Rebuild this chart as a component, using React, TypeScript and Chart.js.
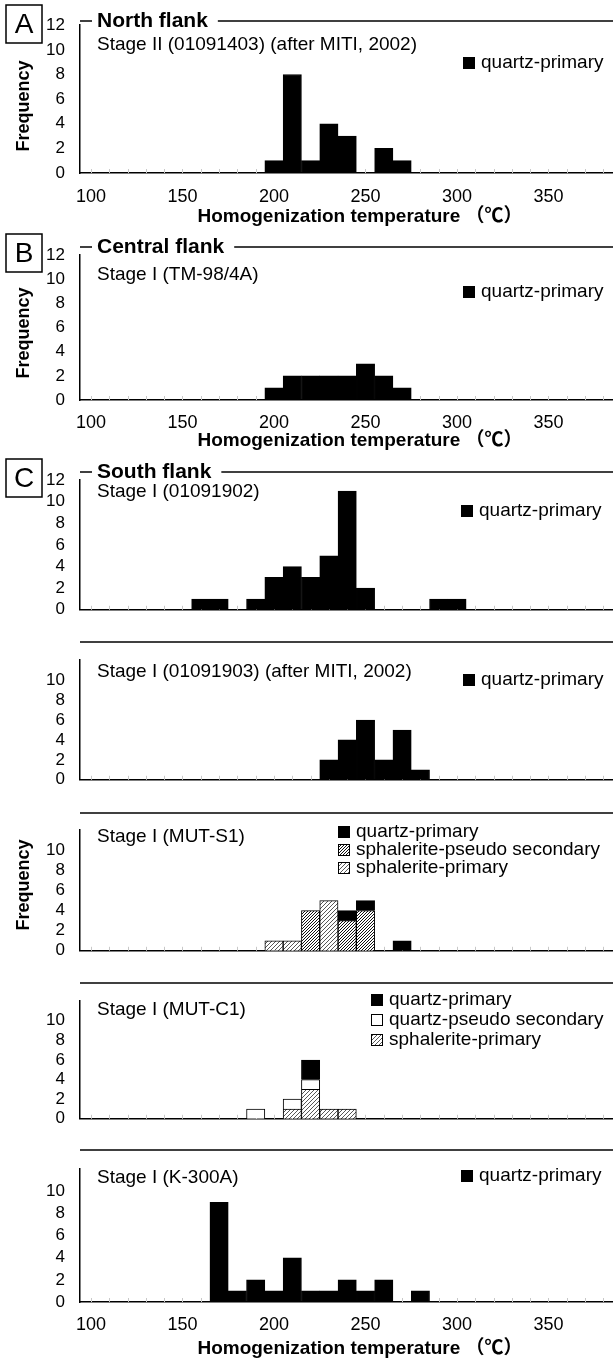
import React, { useEffect, useRef } from "react";
import { Chart, registerables } from "chart.js";

Chart.register(...registerables);

const FONT = "'Liberation Sans', Arial, 'Noto Sans CJK JP', sans-serif";

// ---------------- data ----------------
const tempBins = [160, 170, 180, 190, 200, 210, 220, 230, 240, 250, 260, 270, 280, 290, 300];
const xTickLabels = [100, 150, 200, 250, 300, 350];
const yTicks = [0, 2, 4, 6, 8, 10, 12];

const northQuartzPrimary = [0, 0, 0, 0, 1, 8, 1, 4, 3, 0, 2, 1, 0, 0, 0];
const centralQuartzPrimary = [0, 0, 0, 0, 1, 2, 2, 2, 2, 3, 2, 1, 0, 0, 0];
const s01091902QuartzPrimary = [1, 1, 0, 1, 3, 4, 3, 5, 11, 2, 0, 0, 0, 1, 1];
const s01091903QuartzPrimary = [0, 0, 0, 0, 0, 0, 0, 2, 4, 6, 2, 5, 1, 0, 0];
const mutS1SphaleritePrimary = [0, 0, 0, 0, 1, 1, 0, 5, 0, 0, 0, 0, 0, 0, 0];
const mutS1SphaleritePseudo = [0, 0, 0, 0, 0, 0, 4, 0, 3, 4, 0, 0, 0, 0, 0];
const mutS1QuartzPrimary = [0, 0, 0, 0, 0, 0, 0, 0, 1, 1, 0, 1, 0, 0, 0];
const mutC1SphaleritePrimary = [0, 0, 0, 0, 0, 1, 3, 1, 1, 0, 0, 0, 0, 0, 0];
const mutC1QuartzPseudo = [0, 0, 0, 1, 0, 1, 1, 0, 0, 0, 0, 0, 0, 0, 0];
const mutC1QuartzPrimary = [0, 0, 0, 0, 0, 0, 2, 0, 0, 0, 0, 0, 0, 0, 0];
const k300aQuartzPrimary = [0, 9, 1, 2, 1, 4, 1, 1, 2, 1, 2, 0, 1, 0, 0];

const X_MIN = 94;
const X_MAX = 400;
const X_TITLE = "Homogenization temperature \uFF08\u2103\uFF09";

type DS = { label: string; values: number[]; fill: "black" | "white" | "hatchLight" | "hatchDense" };
type Panel = {
  canvasTop: number;
  canvasH: number;
  plotTop: number;
  plotBottom: number;
  datasets: DS[];
  heading?: string;
  subtitle: string;
  subtitleY: number;
  legendX: number;
  legendYs: number[];
  letter?: { ch: string; top: number };
  freqY?: number;
  showX: boolean;
  hide12: boolean;
  tickPad: number;
  titlePad: number;
};

const panels: Panel[] = [
  {
    canvasTop: 0, canvasH: 230, plotTop: 21, plotBottom: 173,
    datasets: [{ label: "quartz-primary", values: northQuartzPrimary, fill: "black" }],
    heading: "North flank", subtitle: "Stage II (01091403) (after MITI, 2002)", subtitleY: 45,
    legendX: 463, legendYs: [63], letter: { ch: "A", top: 5 }, freqY: 106,
    showX: true, hide12: false, tickPad: 13, titlePad: 2,
  },
  {
    canvasTop: 230, canvasH: 225, plotTop: 247, plotBottom: 400,
    datasets: [{ label: "quartz-primary", values: centralQuartzPrimary, fill: "black" }],
    heading: "Central flank", subtitle: "Stage I (TM-98/4A)", subtitleY: 275,
    legendX: 463, legendYs: [292], letter: { ch: "B", top: 234 }, freqY: 333,
    showX: true, hide12: false, tickPad: 12, titlePad: 3,
  },
  {
    canvasTop: 455, canvasH: 180, plotTop: 472, plotBottom: 627,
    datasets: [{ label: "quartz-primary", values: s01091902QuartzPrimary, fill: "black" }],
    heading: "South flank", subtitle: "Stage I (01091902)", subtitleY: 492,
    legendX: 461, legendYs: [511], letter: { ch: "C", top: 459 },
    showX: false, hide12: false, tickPad: 12, titlePad: 0,
  },
  {
    canvasTop: 635, canvasH: 170, plotTop: 642, plotBottom: 798,
    datasets: [{ label: "quartz-primary", values: s01091903QuartzPrimary, fill: "black" }],
    subtitle: "Stage I (01091903) (after MITI, 2002)", subtitleY: 672,
    legendX: 463, legendYs: [680],
    showX: false, hide12: true, tickPad: 12, titlePad: 0,
  },
  {
    canvasTop: 805, canvasH: 171, plotTop: 813, plotBottom: 969,
    datasets: [
      { label: "sphalerite-primary", values: mutS1SphaleritePrimary, fill: "hatchLight" },
      { label: "sphalerite-pseudo secondary", values: mutS1SphaleritePseudo, fill: "hatchDense" },
      { label: "quartz-primary", values: mutS1QuartzPrimary, fill: "black" },
    ],
    subtitle: "Stage I (MUT-S1)", subtitleY: 837,
    legendX: 338, legendYs: [832, 850, 868], freqY: 885,
    showX: false, hide12: true, tickPad: 12, titlePad: 0,
  },
  {
    canvasTop: 976, canvasH: 168, plotTop: 983, plotBottom: 1138,
    datasets: [
      { label: "sphalerite-primary", values: mutC1SphaleritePrimary, fill: "hatchLight" },
      { label: "quartz-pseudo secondary", values: mutC1QuartzPseudo, fill: "white" },
      { label: "quartz-primary", values: mutC1QuartzPrimary, fill: "black" },
    ],
    subtitle: "Stage I (MUT-C1)", subtitleY: 1010,
    legendX: 371, legendYs: [1000, 1020, 1040],
    showX: false, hide12: true, tickPad: 12, titlePad: 0,
  },
  {
    canvasTop: 1144, canvasH: 216, plotTop: 1150, plotBottom: 1302,
    datasets: [{ label: "quartz-primary", values: k300aQuartzPrimary, fill: "black" }],
    subtitle: "Stage I (K-300A)", subtitleY: 1178,
    legendX: 461, legendYs: [1176],
    showX: true, hide12: true, tickPad: 12, titlePad: 0,
  },
];

const CANVAS_W = 660;

function makeHatch(spacing: number, lw: number, color: string): CanvasPattern | string {
  const c = document.createElement("canvas");
  c.width = spacing;
  c.height = spacing;
  const g = c.getContext("2d");
  if (!g) return "#999";
  g.fillStyle = "#fff";
  g.fillRect(0, 0, spacing, spacing);
  g.strokeStyle = color;
  g.lineWidth = lw;
  g.beginPath();
  g.moveTo(0, spacing);
  g.lineTo(spacing, 0);
  g.moveTo(-spacing / 2, spacing / 2);
  g.lineTo(spacing / 2, -spacing / 2);
  g.moveTo(spacing / 2, spacing * 1.5);
  g.lineTo(spacing * 1.5, spacing / 2);
  g.stroke();
  return g.createPattern(c, "repeat") || "#999";
}

function makeDecor(p: Panel) {
  return {
    id: "decor",
    beforeDatasetsDraw(chart: any) {
      const { ctx, chartArea, scales } = chart;
      const xs = scales.x;
      ctx.save();
      ctx.strokeStyle = "#c8c8c8";
      ctx.lineWidth = 1;
      for (let t = 100; t < X_MAX; t += 10) {
        const px = Math.round(xs.getPixelForValue(t)) + 0.5;
        ctx.beginPath();
        ctx.moveTo(px, chartArea.bottom);
        ctx.lineTo(px, chartArea.bottom - 4);
        ctx.stroke();
      }
      ctx.restore();
    },
    afterDraw(chart: any) {
      const { ctx, chartArea } = chart;
      const L = chartArea.left;
      const top = p.plotTop - p.canvasTop;
      ctx.save();
      ctx.strokeStyle = "#000";
      ctx.fillStyle = "#000";
      ctx.lineWidth = 1.5;
      const line = (x1: number, y1: number, x2: number, y2: number) => {
        ctx.beginPath();
        ctx.moveTo(x1, y1);
        ctx.lineTo(x2, y2);
        ctx.stroke();
      };
      ctx.textBaseline = "middle";
      if (p.heading) {
        ctx.font = `bold 21px ${FONT}`;
        const w = ctx.measureText(p.heading).width;
        line(L, top, L + 12, top);
        ctx.textAlign = "left";
        ctx.fillText(p.heading, L + 17, top);
        line(L + 17 + w + 10, top, CANVAS_W, top);
      } else {
        line(L, top, CANVAS_W, top);
      }
      // subtitle
      ctx.font = `19px ${FONT}`;
      ctx.textAlign = "left";
      ctx.fillText(p.subtitle, L + 17, p.subtitleY - p.canvasTop);
      // legend (top entry = last dataset)
      const dsets = chart.data.datasets.slice().reverse();
      dsets.forEach((d: any, i: number) => {
        const y = p.legendYs[i] - p.canvasTop;
        ctx.fillStyle = d.backgroundColor;
        ctx.fillRect(p.legendX, y - 6, 12, 12);
        ctx.lineWidth = 1;
        ctx.strokeStyle = "#000";
        ctx.strokeRect(p.legendX + 0.5, y - 5.5, 11, 11);
        ctx.fillStyle = "#000";
        ctx.font = `19px ${FONT}`;
        ctx.fillText(d.label, p.legendX + 18, y);
      });
      // letter box
      if (p.letter) {
        const ty = p.letter.top - p.canvasTop;
        ctx.lineWidth = 1.5;
        ctx.strokeRect(6, ty, 36, 38);
        ctx.font = `28px ${FONT}`;
        ctx.textAlign = "center";
        ctx.fillText(p.letter.ch, 24, ty + 20);
      }
      // Frequency label
      if (p.freqY !== undefined) {
        ctx.translate(24, p.freqY - p.canvasTop);
        ctx.rotate(-Math.PI / 2);
        ctx.font = `bold 18px ${FONT}`;
        ctx.textAlign = "center";
        ctx.fillText("Frequency", 0, 0);
      }
      ctx.restore();
    },
  };
}

export default function App() {
  const refs = useRef<(HTMLCanvasElement | null)[]>([]);

  useEffect(() => {
    const fills: Record<string, any> = {
      black: "#000",
      white: "#fff",
      hatchLight: makeHatch(4, 0.9, "#444"),
      hatchDense: makeHatch(3, 1, "#111"),
    };
    const charts: Chart[] = [];
    panels.forEach((p, idx) => {
      const cv = refs.current[idx];
      if (!cv) return;
      const datasets = p.datasets.map((d) => ({
        label: d.label,
        data: tempBins.map((t, i) => ({ x: t, y: d.values[i] ? d.values[i] : null })),
        backgroundColor: fills[d.fill],
        borderColor: "#000",
        borderWidth: 1,
        barPercentage: 1,
        categoryPercentage: 1,
        stack: "s",
      }));
      const xH = p.canvasTop + p.canvasH - p.plotBottom;
      const chart = new Chart(cv, {
        type: "bar",
        data: { datasets: datasets as any },
        options: {
          responsive: false,
          maintainAspectRatio: false,
          animation: false,
          layout: { padding: { top: p.plotTop - p.canvasTop, left: 0, right: CANVAS_W - 640, bottom: 0 } },
          plugins: { legend: { display: false }, tooltip: { enabled: false }, title: { display: false } },
          scales: {
            x: {
              type: "linear",
              min: X_MIN,
              max: X_MAX,
              offset: false,
              stacked: true,
              grid: { display: false, drawTicks: false, offset: false },
              border: { display: true, color: "#000", width: 1.5 },
              afterFit: (s: any) => { s.height = xH; },
              afterBuildTicks: (s: any) => {
                s.ticks = xTickLabels.map((v) => ({ value: v }));
              },
              ticks: {
                display: p.showX,
                padding: p.tickPad,
                autoSkip: false,
                maxRotation: 0,
                color: "#000",
                font: { size: 18, family: FONT },
                callback: (v: any) => String(v),
              },
              title: {
                display: p.showX,
                text: X_TITLE,
                color: "#000",
                font: { size: 19, weight: "bold", family: FONT },
                padding: { top: 0, bottom: p.titlePad },
              },
            },
            y: {
              min: 0,
              max: 12,
              stacked: true,
              grid: { display: false, drawTicks: false },
              border: { display: true, color: "#000", width: 1.5 },
              afterFit: (s: any) => { s.width = 80; },
              afterBuildTicks: (s: any) => {
                s.ticks = yTicks.map((v) => ({ value: v }));
              },
              ticks: {
                padding: 15,
                autoSkip: false,
                color: "#000",
                font: { size: 17, family: FONT },
                callback: (v: any) => (p.hide12 && Number(v) === 12 ? "" : String(v)),
              },
            },
          },
        } as any,
        plugins: [makeDecor(p)],
      });
      charts.push(chart);
    });
    return () => charts.forEach((c) => c.destroy());
  }, []);

  return (
    <div
      style={{
        position: "absolute",
        left: 0,
        top: 0,
        width: 613,
        height: 1360,
        overflow: "hidden",
        background: "#fff",
      }}
    >
      {panels.map((p, i) => (
        <canvas
          key={i}
          ref={(el) => { refs.current[i] = el; }}
          width={CANVAS_W}
          height={p.canvasH}
          style={{ position: "absolute", left: 0, top: p.canvasTop, width: CANVAS_W, height: p.canvasH, display: "block" }}
        />
      ))}
    </div>
  );
}
